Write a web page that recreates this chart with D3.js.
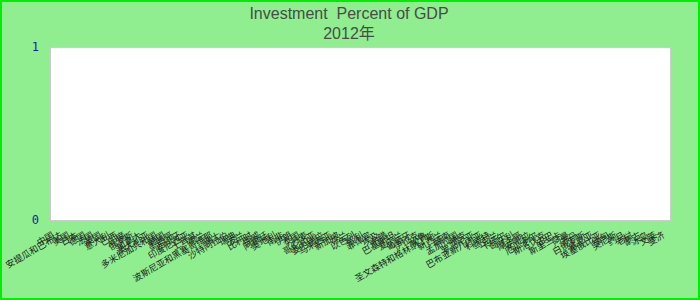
<!DOCTYPE html>
<html>
<head>
<meta charset="utf-8">
<script src="https://cdn.jsdelivr.net/npm/d3@7"></script>
<style>
  body { margin: 0; }
  svg { display: block; }
</style>
</head>
<body>
<div id="chart"></div>
<script>
// chart data
const titleLines = ['Investment  Percent of GDP', '2012年'];
const countries = [
  '中国', '安提瓜和巴布达', '美国', '日本', '德国', '法国', '英国', '意大利', '巴西', '印度',
  '俄罗斯', '加拿大', '澳大利亚', '多米尼加共和国', '韩国', '墨西哥', '西班牙', '印度尼西亚', '土耳其', '荷兰',
  '波斯尼亚和黑塞哥维那', '瑞士', '沙特阿拉伯', '瑞典', '波兰', '比利时', '挪威', '阿根廷', '奥地利', '南非',
  '伊朗', '泰国', '丹麦', '哥伦比亚', '委内瑞拉', '马来西亚', '新加坡', '芬兰', '以色列', '智利',
  '菲律宾', '埃及', '希腊', '巴基斯坦', '爱尔兰', '葡萄牙', '伊拉克', '秘鲁', '圣文森特和格林纳丁斯', '新西兰',
  '越南', '孟加拉国', '捷克', '罗马尼亚', '巴布亚新几内亚', '科威特', '乌克兰', '卡塔尔', '匈牙利', '摩洛哥',
  '安哥拉', '厄瓜多尔', '斯洛伐克', '古巴', '斯里兰卡', '阿曼', '苏丹', '白俄罗斯', '肯尼亚', '埃塞俄比亚',
  '缅甸', '突尼斯', '约旦', '老挝', '蒙古', '冰岛', '文莱', '斐济'
];
// no values came through for 2012, every bar is empty
const investment = [
  0, 0, 0, 0, 0, 0, 0, 0, 0, 0,
  0, 0, 0, 0, 0, 0, 0, 0, 0, 0,
  0, 0, 0, 0, 0, 0, 0, 0, 0, 0,
  0, 0, 0, 0, 0, 0, 0, 0, 0, 0,
  0, 0, 0, 0, 0, 0, 0, 0, 0, 0,
  0, 0, 0, 0, 0, 0, 0, 0, 0, 0,
  0, 0, 0, 0, 0, 0, 0, 0, 0, 0,
  0, 0, 0, 0, 0, 0, 0, 0
];
const yTicks = [0, 1];

const width = 700;
const height = 300;
const margin = {top: 47, right: 30, bottom: 80, left: 50};

const svg = d3.select('#chart')
  .append('svg')
  .attr('width', width)
  .attr('height', height);

// 1. background and frame
svg.append('rect')
  .attr('x', 1)
  .attr('y', 1)
  .attr('width', width - 2)
  .attr('height', height - 2)
  .attr('fill', '#90ee90')
  .attr('stroke', '#00ee00')
  .attr('stroke-width', 2);

svg.append('rect')
  .attr('x', margin.left + 0.5)
  .attr('y', margin.top + 0.5)
  .attr('width', width - margin.left - margin.right)
  .attr('height', height - margin.top - margin.bottom)
  .attr('fill', '#ffffff')
  .attr('stroke', '#cccccc');

// 2. title (keeps the double space)
svg.append('g')
  .selectAll('text')
  .data(titleLines)
  .enter()
  .append('text')
  .attr('x', 349)
  .attr('y', (d, i) => 19 + i * 20)
  .attr('text-anchor', 'middle')
  .attr('font-family', '"Liberation Sans", Arial, "Noto Sans CJK SC", sans-serif')
  .attr('font-size', 16)
  .attr('fill', '#4a4a4a')
  .style('white-space', 'pre')
  .text(d => d);

// 3. scales
let data = countries.map((c, i) => ({country: c, value: investment[i]}));

let xScale = d3.scaleBand()
  .domain(countries)
  .range([margin.left, width - margin.right])
  .padding(0.2);

let yScale = d3.scaleLinear()
  .domain([0, 1])
  .range([height - margin.bottom, margin.top]);

// 4. bars
svg.append('g')
  .selectAll('rect')
  .data(data)
  .enter()
  .append('rect')
  .attr('x', d => xScale(d.country))
  .attr('y', d => yScale(d.value))
  .attr('width', xScale.bandwidth())
  .attr('height', d => yScale(0) - yScale(d.value))
  .attr('fill', '#3366cc');

// 5. axes
let yAxis = svg.append('g')
  .attr('transform', `translate(${margin.left - 8},0)`)
  .call(d3.axisLeft(yScale).tickValues(yTicks).tickFormat(d3.format('d')).tickSize(0));
yAxis.select('.domain').remove();
yAxis.selectAll('text')
  .attr('font-family', '"DejaVu Sans Mono", monospace')
  .attr('font-size', 12)
  .attr('fill', '#1a1aa6');

let xAxis = svg.append('g')
  .attr('transform', `translate(0,${height - margin.bottom + 17})`)
  .call(d3.axisBottom(xScale).tickSize(0));
xAxis.select('.domain').remove();
xAxis.selectAll('text')
  .attr('font-family', '"Noto Sans CJK SC", sans-serif')
  .attr('font-size', 9)
  .attr('fill', '#222222')
  .attr('text-anchor', 'end')
  .attr('dy', 0)
  .attr('y', 0)
  .attr('transform', 'rotate(-30)');
</script>
</body>
</html>
